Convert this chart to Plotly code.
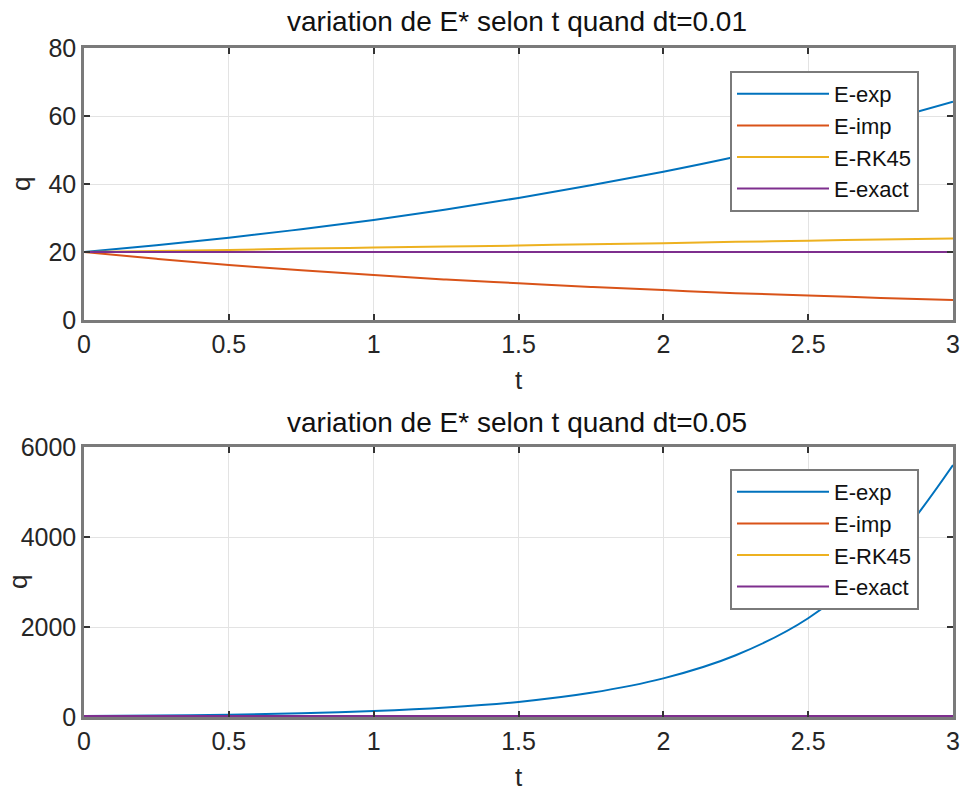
import plotly.graph_objects as go

t = [0, 0.25, 0.5, 0.75, 1.0, 1.25, 1.5, 1.75, 2.0, 2.25, 2.5, 2.75, 3.0]

# dt = 0.01
exp1 = [20, 22.0, 24.2, 26.7, 29.4, 32.5, 35.9, 39.6, 43.6, 48.0, 52.9, 58.3, 64.2]
imp1 = [20, 18.0, 16.2, 14.6, 13.2, 11.9, 10.8, 9.7, 8.8, 7.9, 7.2, 6.5, 5.9]
rk1 = [20, 20.3, 20.6, 21.0, 21.3, 21.6, 21.9, 22.3, 22.6, 23.0, 23.3, 23.7, 24.0]
ex1 = [20] * 13

# dt = 0.05
exp2 = [20, 32, 51, 82, 131, 210, 335, 537, 858, 1372, 2195, 3510, 5600]
imp2 = [20, 12.5, 7.8, 4.9, 3.1, 1.9, 1.2, 0.8, 0.5, 0.3, 0.2, 0.1, 0.1]
rk2 = [20, 20.3, 20.6, 21.0, 21.3, 21.6, 21.9, 22.3, 22.6, 23.0, 23.3, 23.7, 24.0]
ex2 = [20] * 13

names = ["E-exp", "E-imp", "E-RK45", "E-exact"]
colors = ["#0072BD", "#D95319", "#EDB120", "#7E2F8E"]
titles = ["variation de E* selon t quand dt=0.01", "variation de E* selon t quand dt=0.05"]
ylabel = "q"

xticks = [0, 0.5, 1, 1.5, 2, 2.5, 3]
xticktext = ["0", "0.5", "1", "1.5", "2", "2.5", "3"]
yticks1 = [0, 20, 40, 60, 80]
yticks2 = [0, 2000, 4000, 6000]

FONT = "Liberation Sans, Arial, sans-serif"
AX = "#7a7a7a"
TXT = "#262626"

fig = go.Figure()
for ys, sub, leg in [([exp1, imp1, rk1, ex1], 1, "legend"), ([exp2, imp2, rk2, ex2], 2, "legend2")]:
    for y, n, c in zip(ys, names, colors):
        fig.add_trace(go.Scatter(
            x=t, y=y, name=n, mode="lines", line=dict(color=c, width=2, shape="spline"),
            xaxis="x" if sub == 1 else "x2", yaxis="y" if sub == 1 else "y2",
            legend=leg))

W, H = 962, 794
def px(x):
    return x / W
def py(y):
    return 1 - y / H

axis_common = dict(
    automargin=False,
    showline=True, linecolor=AX, linewidth=2.5, mirror="ticks",
    ticks="inside", ticklen=6, tickwidth=1.5, tickcolor="#333333",
    showgrid=True, gridcolor="#e3e3e3", gridwidth=1, zeroline=False,
    tickfont=dict(family=FONT, size=25, color=TXT),
)

legend_common = dict(xanchor="left", yanchor="top", bgcolor="white",
                     bordercolor=AX, borderwidth=2, itemwidth=92,
                     font=dict(family=FONT, size=22, color="#111"), tracegroupgap=0)

fig.update_layout(
    template="none",
    width=W, height=H, margin=dict(l=0, r=0, t=0, b=0),
    paper_bgcolor="white", plot_bgcolor="white",
    font=dict(family=FONT, color=TXT),
    xaxis=dict(domain=[px(84), px(953)], anchor="y", range=[0, 3], tickvals=xticks, ticktext=xticktext,
               title=dict(text="t", font=dict(size=26, color=TXT), standoff=15), **axis_common),
    yaxis=dict(domain=[py(320), py(48)], anchor="x", range=[0, 80], tickvals=yticks1, **axis_common),
    xaxis2=dict(domain=[px(84), px(953)], anchor="y2", range=[0, 3], tickvals=xticks, ticktext=xticktext,
                title=dict(text="t", font=dict(size=26, color=TXT), standoff=15), **axis_common),
    yaxis2=dict(domain=[py(717), py(447)], anchor="x2", range=[0, 6000], tickvals=yticks2, **axis_common),
    legend=dict(x=px(730), y=py(71), **legend_common),
    legend2=dict(x=px(730), y=py(469), **legend_common),
    annotations=[
        dict(text=titles[0], x=px(517), y=py(22), xref="paper", yref="paper", showarrow=False,
             font=dict(family=FONT, size=28, color="#111"), xanchor="center", yanchor="middle"),
        dict(text=titles[1], x=px(517), y=py(422), xref="paper", yref="paper", showarrow=False,
             font=dict(family=FONT, size=28, color="#111"), xanchor="center", yanchor="middle"),
        dict(text=ylabel, x=px(21), y=py(184), xref="paper", yref="paper", showarrow=False, textangle=-90,
             font=dict(family=FONT, size=26, color=TXT), xanchor="center", yanchor="middle"),
        dict(text=ylabel, x=px(18), y=py(582), xref="paper", yref="paper", showarrow=False, textangle=-90,
             font=dict(family=FONT, size=26, color=TXT), xanchor="center", yanchor="middle"),
    ],
)

fig.write_html("out.html")
